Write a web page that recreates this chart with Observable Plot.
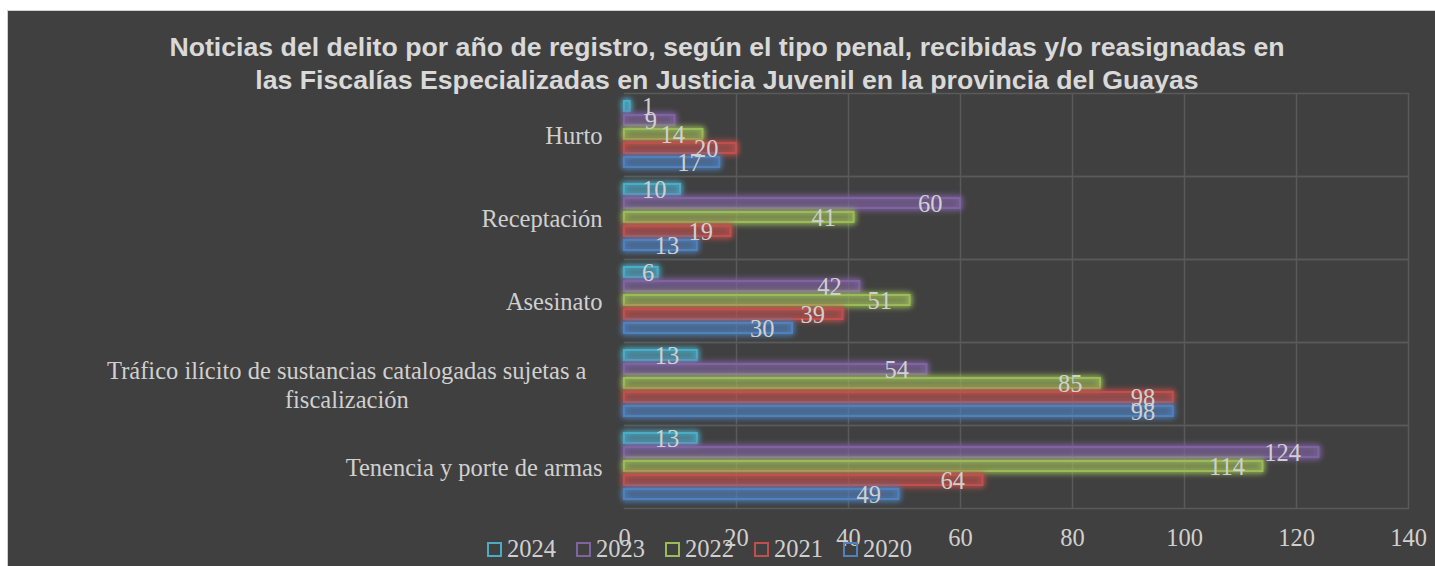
<!DOCTYPE html>
<html>
<head>
<meta charset="utf-8">
<script src="https://cdn.jsdelivr.net/npm/d3@7"></script>
<script src="https://cdn.jsdelivr.net/npm/@observablehq/plot@0.6"></script>
<style>
  html, body { margin: 0; padding: 0; background: #fff; width: 1435px; height: 566px; overflow: hidden; }
  #box { position: absolute; left: 7px; top: 10px; width: 1440px; height: 560px; background: #404040;
         border-left: 1px solid #cfcfcf; border-top: 1px solid #cfcfcf; }
  #title { position: absolute; left: 0; top: 20px; width: 1438px; text-align: center;
           font: bold 26.7px "Liberation Sans", Arial, sans-serif; line-height: 33px; color: #d9d9d9; white-space: nowrap; }
  #plot { position: absolute; left: 0; top: 0; }
  #legend { position: absolute; left: 479px; top: 526px; display: flex; align-items: center;
            font: 24.5px "Liberation Serif", "DejaVu Serif", serif; line-height: 24px; color: #d0d0d0; }
  #legend .item { display: flex; align-items: center; margin-right: 20px; }
  #legend .sw { width: 11px; height: 11px; border: 2px solid; margin-right: 5px; }
</style>
</head>
<body>
<div id="box">
  <div id="title">Noticias del delito por año de registro, según el tipo penal, recibidas y/o reasignadas en<br>las Fiscalías Especializadas en Justicia Juvenil en la provincia del Guayas</div>
  <div id="plot"></div>
  <div id="legend"></div>
</div>
<script>
const categories = [
  "Hurto",
  "Receptación",
  "Asesinato",
  "Tráfico ilícito de sustancias catalogadas sujetas a fiscalización",
  "Tenencia y porte de armas"
];
const categoryLabels = [
  "Hurto",
  "Receptación",
  "Asesinato",
  "Tráfico ilícito de sustancias catalogadas sujetas a\nfiscalización",
  "Tenencia y porte de armas"
];
const years = ["2024", "2023", "2022", "2021", "2020"];
const values2024 = [1, 10, 6, 13, 13];
const values2023 = [9, 60, 42, 54, 124];
const values2022 = [14, 41, 51, 85, 114];
const values2021 = [20, 19, 39, 98, 64];
const values2020 = [17, 13, 30, 98, 49];
const yearColors = ["#4bacc6", "#8064a2", "#9bbb59", "#c0504d", "#4f81bd"];
const xTicks = [0, 20, 40, 60, 80, 100, 120, 140];

const seriesValues = [values2024, values2023, values2022, values2021, values2020];
const data = [];
categories.forEach((c, ci) => {
  years.forEach((y, yi) => {
    data.push({category: c, year: y, value: seriesValues[yi][ci]});
  });
});

const textColor = "#d0d0d0";
const gridColor = "#5a5a5a";
const serif = '"Liberation Serif", "DejaVu Serif", serif';
const mLeft = 616;

const chart = Plot.plot({
  width: 1427,
  height: 555,
  marginLeft: mLeft,
  marginRight: 27,
  marginTop: 82,
  marginBottom: 58,
  style: {background: "transparent", fontFamily: serif, fontSize: "24.5px", color: textColor, overflow: "visible"},
  x: {domain: [0, 140], axis: null},
  y: {domain: years, axis: null, paddingInner: 0.28, paddingOuter: 0.55},
  fy: {domain: categories, axis: null, padding: 0},
  color: {domain: years, range: yearColors},
  marks: [
    Plot.gridX(xTicks.filter(t => t > 0), {stroke: gridColor, strokeOpacity: 1, strokeWidth: 1.5}),
    Plot.frame({anchor: "top", stroke: gridColor, strokeWidth: 1.5}),
    Plot.frame({anchor: "bottom", stroke: gridColor, strokeWidth: 1.5}),
    Plot.axisX({anchor: "bottom", ticks: xTicks, tickSize: 0, tickPadding: 20, fill: textColor, label: null, fontSize: 24.5}),
    Plot.text(categories, {fy: d => d, text: (d, i) => categoryLabels[i], frameAnchor: "left", textAnchor: "end",
                           dx: -22, lineHeight: 1.2, fill: textColor, fontSize: 24.5}),
    Plot.barX(data, {fy: "category", y: "year", x: "value", fill: "year", fillOpacity: 0.14,
                     stroke: "year", strokeWidth: 2}),
    Plot.text(data, {fy: "category", y: "year", x: "value", text: d => String(d.value), textAnchor: "end",
                     dx: -18, dy: 1, fill: textColor, fontSize: 24.5})
  ]
});
document.getElementById("plot").appendChild(chart);

// glow on bars
chart.querySelectorAll('g[aria-label="bar"] rect').forEach(r => {
  const c = r.getAttribute("stroke") || r.parentNode.getAttribute("stroke");
  if (c) r.style.filter = `drop-shadow(0 0 3px ${c}) drop-shadow(0 0 2px ${c})`;
});

const textGroups = chart.querySelectorAll('g[aria-label="text"]');
// center multi-line category labels inside a slightly inset label box
if (textGroups[0]) {
  textGroups[0].querySelectorAll("text").forEach(t => {
    const spans = t.querySelectorAll("tspan");
    if (spans.length > 1) {
      let maxW = 0;
      spans.forEach(s => { maxW = Math.max(maxW, s.getComputedTextLength()); });
      t.setAttribute("text-anchor", "middle");
      const tr = t.getAttribute("transform") || "";
      t.setAttribute("transform", (tr + ` translate(${-maxW / 2 - 16},0)`).trim());
    }
  });
}
// keep value labels from running past the left inset (like inside-end labels)
if (textGroups[1]) {
  const svgLeft = chart.getBoundingClientRect().left;
  textGroups[1].querySelectorAll("text").forEach(t => {
    const r = t.getBoundingClientRect();
    const minLeft = svgLeft + mLeft + 18;
    if (r.left < minLeft) {
      const tr = t.getAttribute("transform") || "";
      t.setAttribute("transform", (tr + ` translate(${minLeft - r.left},0)`).trim());
    }
  });
}

// legend
const legend = document.getElementById("legend");
years.forEach((y, i) => {
  const item = document.createElement("div");
  item.className = "item";
  const sw = document.createElement("div");
  sw.className = "sw";
  sw.style.borderColor = yearColors[i];
  const lab = document.createElement("span");
  lab.textContent = y;
  item.appendChild(sw);
  item.appendChild(lab);
  legend.appendChild(item);
});
</script>
</body>
</html>
